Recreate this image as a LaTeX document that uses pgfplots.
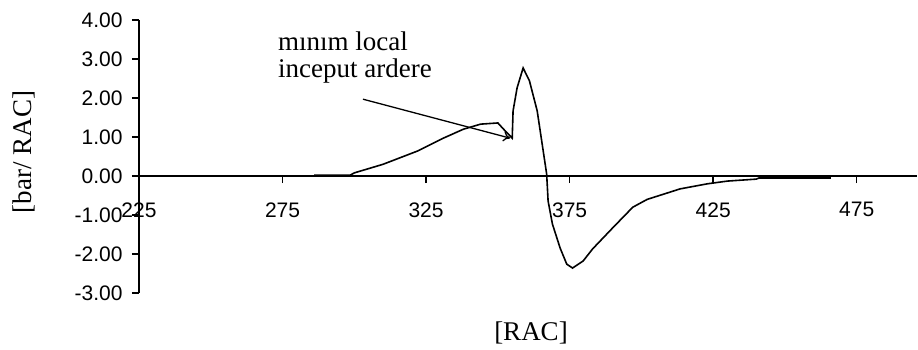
\documentclass[border=0pt]{standalone}
\usepackage{pgfplots}
\pgfplotsset{compat=1.18}
\usetikzlibrary{arrows.meta}
\usepackage{fontspec}
\setmainfont{Liberation Serif}
\newfontfamily\ticksfont{Liberation Sans}
\begin{document}
\begin{tikzpicture}
\path[use as bounding box] (-139pt,-56pt) rectangle (779pt,293pt);
\begin{axis}[
  at={(0,0)}, anchor=south west,
  scale only axis, width=778pt, height=273pt,
  xmin=225, xmax=496, ymin=-3, ymax=4,
  axis x line=middle, axis y line=left,
  axis line style={-, line width=1.4pt, black},
  xtick={225,275,325,375,425,475}, ytick={-3,-2,-1,0,1,2,3,4},
  hide obscured x ticks=false,
  xtick align=outside, ytick align=outside,
  major tick length=7pt,
  every tick/.style={line width=1.4pt, black},
  ticklabel style={font=\ticksfont\fontsize{21}{24}\selectfont},
  /pgf/number format/assume math mode=true,
  y tick label style={/pgf/number format/fixed, /pgf/number format/fixed zerofill, /pgf/number format/precision=2, xshift=-6pt},
  x tick label style={/pgf/number format/1000 sep={}, yshift=-16pt},
  clip=false,
]
\addplot[black, line width=1.6pt] coordinates {
(286,0.02) (298.5,0.02) (300,0.08) (310,0.3) (322,0.64) (331,0.97) (338,1.2)
(344,1.33) (350,1.36) (352,1.2) (355,0.97) (355.3,1.67) (356.7,2.26) (358.8,2.77)
(361,2.44) (363.7,1.67) (365.8,0.64) (367,0.05) (367.5,-0.64) (369,-1.23)
(371.7,-1.85) (374,-2.26) (376,-2.36) (379.7,-2.18) (383,-1.87) (390,-1.33)
(397,-0.8) (402,-0.6) (413.5,-0.33) (423,-0.2) (430,-0.13) (440,-0.08)
(441,-0.05) (466,-0.05)
};
\pgfplotsinvokeforeach{275,325,375,425,475}{
  \draw[line width=1.4pt, black] (axis cs:#1,0) -- ++(0pt,-7pt);
}
\pgfplotsinvokeforeach{-3,-2,-1,0,1,2,3,4}{
  \draw[line width=1.4pt, black] (axis cs:225,#1) -- ++(-7pt,0pt);
}
\draw[black, line width=1.3pt, -{To[length=7pt,width=10pt]}] (axis cs:303,1.97) -- (axis cs:354.3,0.97);
\end{axis}
\node[anchor=base west, inner sep=0pt, font=\fontsize{27}{30}\selectfont] at (139pt,243pt) {mınım local};
\node[anchor=base west, inner sep=0pt, font=\fontsize{27}{30}\selectfont] at (139pt,216pt) {inceput ardere};
\node[rotate=90, font=\fontsize{27}{30}\selectfont] at (-115pt,141pt) {[bar/ RAC]};
\node[font=\fontsize{27}{30}\selectfont] at (392pt,-40pt) {[RAC]};
\end{tikzpicture}
\end{document}
